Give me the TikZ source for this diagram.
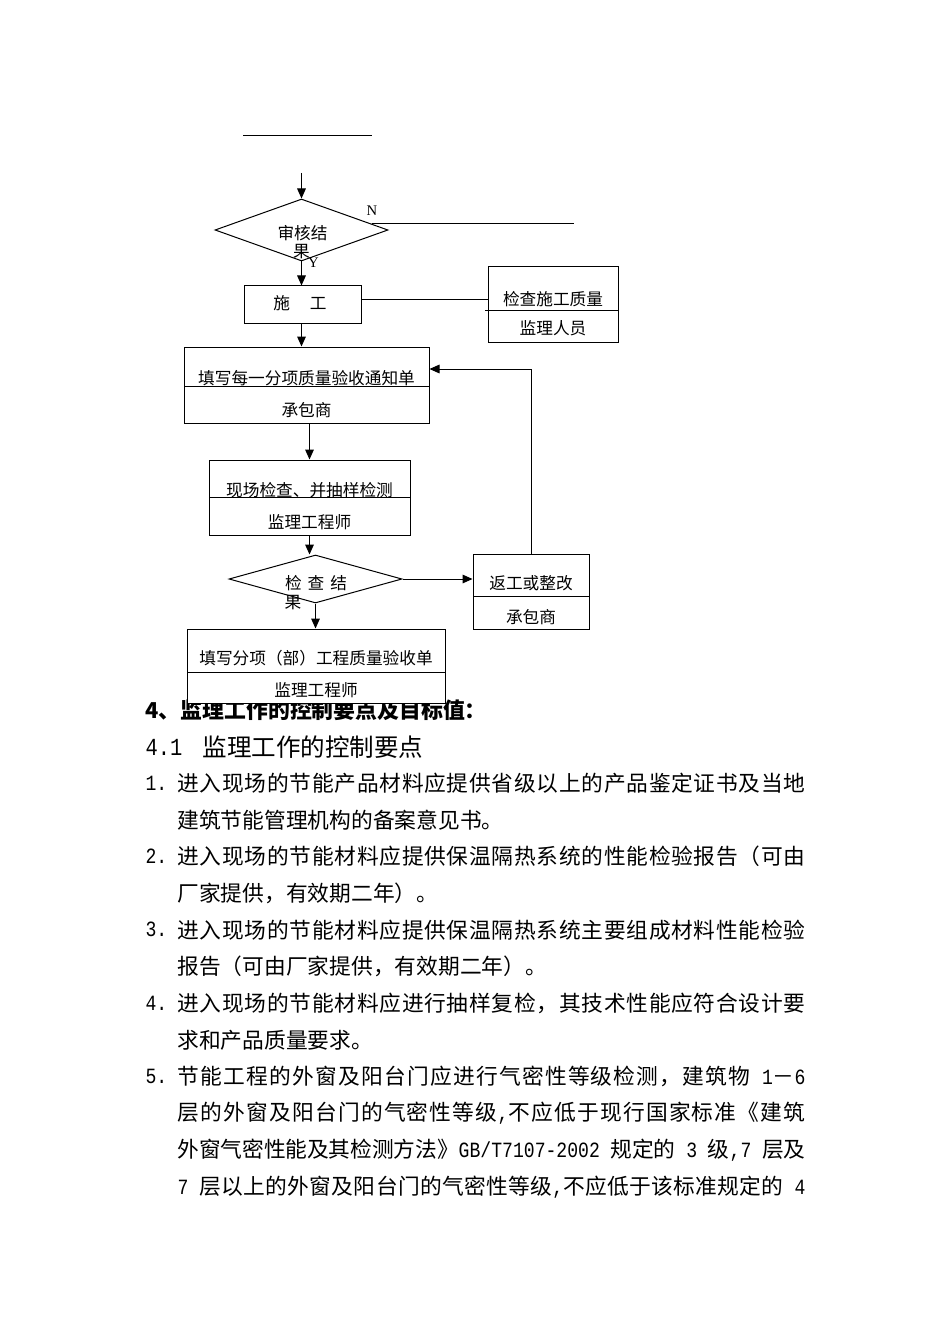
\documentclass[tikz,border=0pt]{standalone}
\usepackage{fontspec}
\setmainfont{Liberation Serif}
\newfontfamily\cjk{Noto Sans CJK SC}
\newfontfamily\asc{Liberation Mono}[FakeStretch=0.833]
\usetikzlibrary{shapes.geometric,arrows.meta,calc}
\tikzset{every picture/.style={line width=0.75pt}}
% stretchable space between CJK characters, for justified lines
\XeTeXinterchartokenstate=1
\newcount\cjkc
\cjkc="4E00
\loop\ifnum\cjkc<"A000 \XeTeXcharclass\cjkc=1 \advance\cjkc by 1 \repeat
\XeTeXcharclass"3001=1 \XeTeXcharclass"3002=1 \XeTeXcharclass"300A=1 \XeTeXcharclass"300B=1
\XeTeXcharclass"FF08=1 \XeTeXcharclass"FF09=1 \XeTeXcharclass"FF0C=1 \XeTeXcharclass"FF0D=1
\XeTeXcharclass"FF1A=1
\XeTeXinterchartoks 1 1 = {\hskip 0pt plus 8pt minus 2pt\relax}
\newcommand{\flowfont}{\cjk\fontsize{12.5}{15}\selectfont}
\newcommand{\bodyfont}{\cjk\fontsize{16.3}{20}\selectfont}
\newcommand{\ac}[1]{{\asc\fontsize{16.3}{18}\selectfont #1}}
\newcommand{\jl}[1]{\hbox to 471pt{#1}}
\begin{document}
\begin{tikzpicture}[x=0.75pt,y=0.75pt,yscale=-1,xscale=1,
  box/.style={draw, fill=white, inner sep=0pt},
  dia/.style={draw, fill=white, diamond, inner sep=0pt},
  flow/.style={font=\flowfont, inner sep=0pt},
  body/.style={font=\bodyfont, anchor=west, inner sep=0pt},
  arr/.style={-{Triangle[length=7.5pt,width=6.5pt]}}]
    \useasboundingbox (0,0) rectangle (950,1344);

    % Text Node: heading (under the last box)
    \node[body, font=\cjk\bfseries\fontsize{16.4}{20}\selectfont] (head) at (145,710) {4、监理工作的控制要点及目标值：};
    \node[body, font=\asc\fontsize{18.4}{22}\selectfont] (subNum) at (145,747) {4.1};
    \node[body, font=\cjk\fontsize{18.4}{22}\selectfont] (subText) at (202,747) {监理工作的控制要点};

    % Text Node: items
    \node[body] (numA) at (145,783) {\ac{1.}};
    \node[body] (lineA) at (177,783) {\jl{进入现场的节能产品材料应提供省级以上的产品鉴定证书及当地}};
    \node[body] (lineB) at (177,819.7) {建筑节能管理机构的备案意见书。};
    \node[body] (numB) at (145,856.4) {\ac{2.}};
    \node[body] (lineC) at (177,856.4) {\jl{进入现场的节能材料应提供保温隔热系统的性能检验报告（可由}};
    \node[body] (lineD) at (177,893.1) {厂家提供，有效期二年）。};
    \node[body] (numC) at (145,929.8) {\ac{3.}};
    \node[body] (lineE) at (177,929.8) {\jl{进入现场的节能材料应提供保温隔热系统主要组成材料性能检验}};
    \node[body] (lineF) at (177,966.5) {报告（可由厂家提供，有效期二年）。};
    \node[body] (numD) at (145,1003.2) {\ac{4.}};
    \node[body] (lineG) at (177,1003.2) {\jl{进入现场的节能材料应进行抽样复检，其技术性能应符合设计要}};
    \node[body] (lineH) at (177,1039.9) {求和产品质量要求。};
    \node[body] (numE) at (145,1076.6) {\ac{5.}};
    \node[body] (lineI) at (177,1076.6) {\jl{节能工程的外窗及阳台门应进行气密性等级检测，建筑物\ac{ 1}－\ac{6}}};
    \node[body] (lineJ) at (177,1113.3) {\jl{层的外窗及阳台门的气密性等级\ac{,}不应低于现行国家标准《建筑}};
    \node[body] (lineK) at (177,1150) {\jl{外窗气密性能及其检测方法》\ac{GB/T7107-2002 }规定的\ac{ 3 }级\ac{,7 }层及}};
    \node[body] (lineL) at (177,1186.7) {\jl{\ac{7 }层以上的外窗及阳台门的气密性等级\ac{,}不应低于该标准规定的\ac{ 4}}};

    %Shape: boxes and decisions
    \node[dia, minimum width=173*0.75pt, minimum height=62*0.75pt] (shenhe) at (301.5,230) {};
    \node[box, minimum width=117*0.75pt, minimum height=37*0.75pt] (shigong) at (302.5,304.5) {};
    \node[box, minimum width=130*0.75pt, minimum height=75*0.75pt] (jiancha) at (553,304.5) {};
    \node[box, minimum width=245*0.75pt, minimum height=76*0.75pt] (tianxie) at (306.5,385) {};
    \node[box, minimum width=201*0.75pt, minimum height=75*0.75pt] (xianchang) at (309.5,497.5) {};
    \node[dia, minimum width=173*0.75pt, minimum height=48*0.75pt] (jieguo) at (315.5,579) {};
    \node[box, minimum width=116*0.75pt, minimum height=75*0.75pt] (fangong) at (531,591.5) {};
    \node[box, minimum width=258*0.75pt, minimum height=74*0.75pt] (fenxiang) at (316,666) {};

    %Straight Lines: dividers
    \draw (485,311) -- (618,311);
    \draw (184,386) -- (429,386);
    \draw (209,497) -- (410,497);
    \draw (473,596) -- (589,596);
    \draw (187,672) -- (445,672);

    %Straight Lines: connectors
    \coordinate (topL) at (243,136);
    \coordinate (topR) at (372,136);
    \coordinate (inTop) at (301.5,173);
    \coordinate (nEnd) at (574,224);
    \draw (topL) -- (topR);
    \draw[arr] (inTop) -- (shenhe.north);
    \draw (shenhe.5) -- (shenhe.5 -| nEnd);
    \draw[arr] (shenhe.south) -- (shenhe.south |- shigong.north);
    \coordinate (sgR) at ($(shigong.east)+(0,-4.5)$);
    \draw (sgR) -- (sgR -| jiancha.west);
    \draw[arr] (shigong.south -| shenhe.south) -- (shenhe.south |- tianxie.north);
    \draw[arr] (tianxie.south -| xianchang.north) -- (xianchang.north);
    \draw[arr] (xianchang.south) -- (xianchang.south |- jieguo.north);
    \draw[arr] (jieguo.east) -- (jieguo.east -| fangong.west);
    \draw[arr] (jieguo.south) -- (jieguo.south |- fenxiang.north);
    \coordinate (fbIn) at ($(tianxie.east)+(0,-16)$);
    \draw[arr] (fangong.north) |- (fbIn);

    % Text Node: flow labels
    \node[flow] (shenheA) at (302.5,233) {审核结};
    \node[flow] (shenheB) at (301.5,252) {果};
    \node[inner sep=0pt, font=\fontsize{11}{13}\selectfont] (labN) at (372,211) {N};
    \node[inner sep=0pt, font=\fontsize{11}{13}\selectfont] (labY) at (313.5,263) {Y};
    \node[flow] (shigongT) at (300,303) {施\hspace{1.2em}工};
    \node[flow] (jianchaT) at (553,299) {检查施工质量};
    \node[flow] (jianchaB) at (553,328) {监理人员};
    \node[flow] (tianxieT) at (306.5,378) {填写每一分项质量验收通知单};
    \node[flow] (tianxieB) at (306.5,410) {承包商};
    \node[flow] (xianchangT) at (309.5,490) {现场检查、并抽样检测};
    \node[flow] (xianchangB) at (309.5,522) {监理工程师};
    \node[flow] (jieguoA) at (316,583) {检\hspace{0.36em}查\hspace{0.36em}结};
    \node[flow] (jieguoB) at (293,603) {果};
    \node[flow] (fangongT) at (531,583) {返工或整改};
    \node[flow] (fangongB) at (531,617) {承包商};
    \node[flow] (fenxiangT) at (316,658) {填写分项（部）工程质量验收单};
    \node[flow] (fenxiangB) at (316,690) {监理工程师};

\end{tikzpicture}
\end{document}
